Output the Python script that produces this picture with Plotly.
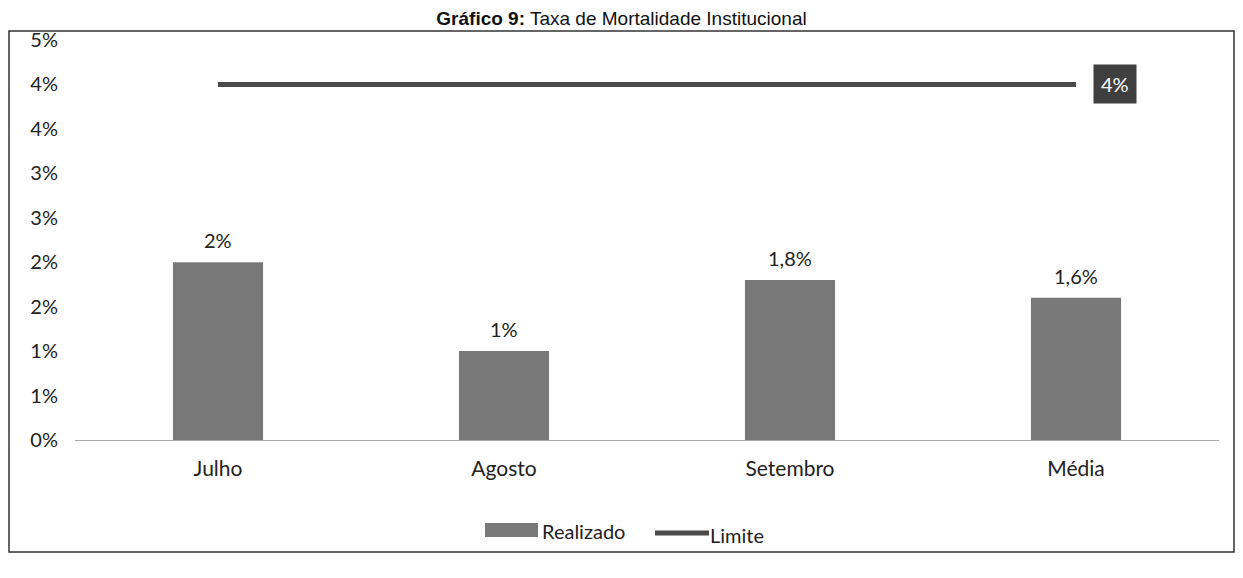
import plotly.graph_objects as go

categorias = ["Julho", "Agosto", "Setembro", "Média"]
realizado = [0.020, 0.010, 0.018, 0.016]
realizado_txt = ["2%", "1%", "1,8%", "1,6%"]
limite = [0.04, 0.04, 0.04, 0.04]
limite_txt = "4%"
y_ticks = [0, 0.005, 0.01, 0.015, 0.02, 0.025, 0.03, 0.035, 0.04, 0.045]
y_tick_txt = ["0%", "1%", "1%", "2%", "2%", "3%", "3%", "4%", "4%", "5%"]

# a página tem 8px de margem no body; a figura é dimensionada para caber
OFF = 8
W, H = 1243 - 2 * OFF, 578 - 2 * OFF
L, R, T, B = 67, 16, 32, 130
pw, ph = W - L - R, H - T - B


def px_x(sx):
    return (sx - OFF - L) / pw


def px_y(sy):
    return (T + ph - (sy - OFF)) / ph


BAR_COR = "#787878"
LIN_COR = "#4a4a4a"
FONTE = "Lato"

fig = go.Figure()
fig.add_trace(go.Bar(
    x=categorias, y=realizado, name="Realizado",
    marker=dict(color=BAR_COR, line=dict(width=0)),
    width=0.315,
))
fig.add_trace(go.Scatter(
    x=categorias, y=limite, name="Limite", mode="lines",
    line=dict(color=LIN_COR, width=5),
))

# rótulos de dados das barras
for cat, val, txt in zip(categorias, realizado, realizado_txt):
    fig.add_annotation(
        x=cat, y=val, xref="x", yref="y", text=txt, showarrow=False,
        yanchor="bottom", yshift=8,
        font=dict(size=20, color="#222", family=FONTE),
    )

# rótulo do limite no último ponto
fig.add_annotation(
    x=categorias[-1], y=limite[-1], xref="x", yref="y",
    text=limite_txt, showarrow=False, xanchor="left", xshift=17,
    font=dict(size=20, color="white", family=FONTE),
    bgcolor="#3f3f3f", borderpad=7,
)

# legenda desenhada à mão (símbolos largos como no Excel)
fig.add_shape(type="rect", xref="paper", yref="paper",
              x0=px_x(485), x1=px_x(538), y0=px_y(537), y1=px_y(523),
              fillcolor=BAR_COR, line=dict(width=0))
fig.add_annotation(x=px_x(540), y=px_y(531), xref="paper", yref="paper",
                   text="Realizado", showarrow=False, xanchor="left", yanchor="middle",
                   font=dict(size=20, color="#222", family=FONTE))
fig.add_shape(type="line", xref="paper", yref="paper",
              x0=px_x(655), x1=px_x(709), y0=px_y(533), y1=px_y(533),
              line=dict(color=LIN_COR, width=5))
fig.add_annotation(x=px_x(708), y=px_y(535), xref="paper", yref="paper",
                   text="Limite", showarrow=False, xanchor="left", yanchor="middle",
                   font=dict(size=20, color="#222", family=FONTE))

# moldura do gráfico
fig.add_shape(
    type="rect", xref="paper", yref="paper",
    x0=px_x(9), x1=px_x(1234), y0=px_y(552), y1=px_y(31),
    line=dict(color="#333", width=1.5),
)

fig.update_layout(
    width=W, height=H,
    margin=dict(l=L, r=R, t=T, b=B),
    plot_bgcolor="white", paper_bgcolor="white",
    separators=",.",
    title=dict(
        text="<b>Gráfico 9:</b> Taxa de Mortalidade Institucional",
        x=0.5, xanchor="center", y=1 - 4 / H, yanchor="top",
        font=dict(family="Liberation Sans", size=19, color="#111"),
    ),
    font=dict(family=FONTE, size=20, color="#222"),
    showlegend=False,
    xaxis=dict(
        type="category", showline=True, linecolor="#aaa", linewidth=1,
        showgrid=False, ticks="", tickfont=dict(size=21),
        ticklabelstandoff=10,
    ),
    yaxis=dict(
        range=[0, 0.045], tickvals=y_ticks, ticktext=y_tick_txt,
        showgrid=False, zeroline=False, showline=False,
        tickfont=dict(size=20), ticklabelstandoff=16,
    ),
)

fig.write_html("out.html")
